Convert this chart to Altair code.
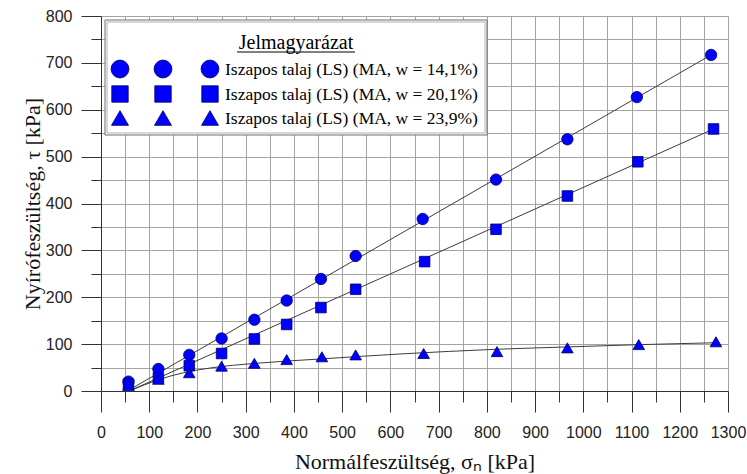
import altair as alt
import pandas as pd

# Direct shear results: normal stress sigma_n [kPa] vs. shear stress tau [kPa]
sigma_141 = [57, 119, 183, 250, 318, 385, 456, 528, 667, 819, 967, 1111, 1265]
tau_141 = [20, 47, 77, 112, 152, 193, 239, 288, 367, 451, 537, 627, 717]

sigma_201 = [57, 119, 183, 250, 318, 385, 456, 528, 671, 819, 967, 1113, 1270]
tau_201 = [14, 28, 54, 80, 111, 142, 178, 217, 276, 345, 416, 489, 559]

sigma_239 = [57, 119, 183, 250, 318, 385, 458, 528, 669, 821, 967, 1115, 1275]
tau_239 = [12, 25, 39, 53, 59, 67, 73, 77, 80, 84, 92, 99, 105]

# Strength envelopes (end points / points along the fitted curves)
fit_sigma_141 = [63, 1265]
fit_tau_141 = [5, 717]
fit_sigma_201 = [63, 1270]
fit_tau_201 = [2, 559]
fit_sigma_239 = [63, 90, 119, 171, 226, 320, 450, 620, 820, 966, 1120, 1275]
fit_tau_239 = [2, 13, 24, 39, 49, 59, 68, 79, 89, 94, 99, 103]

series_labels = [
    "Iszapos talaj (LS) (MA, w = 14,1%)",
    "Iszapos talaj (LS) (MA, w = 20,1%)",
    "Iszapos talaj (LS) (MA, w = 23,9%)",
]
legend_title = "Jelmagyarázat"

x_ticks = list(range(0, 1301, 50))
y_ticks = list(range(0, 801, 50))

W, H = 627, 375
BLUE = "#0000ff"
EDGE = "#000066"
GRID = "#a3a3a3"
AXIS = "#333333"

x_axis = alt.Axis(
    values=x_ticks, format="d", grid=True, gridColor=GRID, gridWidth=1,
    domainColor=AXIS, tickColor=AXIS,
    tickSize={"condition": {"test": "datum.value % 100 === 0", "value": 21}, "value": 11},
    labelExpr="datum.value % 100 === 0 ? datum.label : ''",
    labelOverlap=False, labelFlush=False,
    labelFont="Liberation Sans", labelFontSize=16, labelColor="#222222", labelPadding=12,
    title="Normálfeszültség, σₙ [kPa]", titleFont="Liberation Serif", titleFontSize=22,
    titleFontWeight="normal", titleColor="#111111", titleY=70, titleBaseline="middle",
)
y_axis = alt.Axis(
    values=y_ticks, format="d", grid=True, gridColor=GRID, gridWidth=1,
    domainColor=AXIS, tickColor=AXIS,
    tickSize={"condition": {"test": "datum.value % 100 === 0", "value": 20}, "value": 10},
    labelExpr="datum.value % 100 === 0 ? datum.label : ''",
    labelOverlap=False, labelFlush=False,
    labelFont="Liberation Sans", labelFontSize=16, labelColor="#222222", labelPadding=9,
    title="Nyírófeszültség, τ [kPa]", titleFont="Liberation Serif", titleFontSize=22,
    titleFontWeight="normal", titleColor="#111111", titleX=-69, titleBaseline="middle",
)

xs = alt.Scale(domain=[0, 1300], nice=False)
ys = alt.Scale(domain=[0, 800], nice=False)


def enc_x():
    return alt.X("sigma:Q", scale=xs, axis=x_axis)


def enc_y():
    return alt.Y("tau:Q", scale=ys, axis=y_axis)


def curve(sig, tau):
    df = pd.DataFrame({"sigma": sig, "tau": tau})
    return alt.Chart(df).mark_line(
        color="#3c3c3c", strokeWidth=1, interpolate="monotone"
    ).encode(x=enc_x(), y=enc_y())


def points(sig, tau, shape, size):
    df = pd.DataFrame({"sigma": sig, "tau": tau})
    return alt.Chart(df).mark_point(
        shape=shape, filled=True, fill=BLUE, stroke=EDGE, strokeWidth=0.8,
        size=size, opacity=1,
    ).encode(x=enc_x(), y=enc_y())


layers = [
    curve(fit_sigma_141, fit_tau_141),
    curve(fit_sigma_201, fit_tau_201),
    curve(fit_sigma_239, fit_tau_239),
    points(sigma_141, tau_141, "circle", 130),
    points(sigma_201, tau_201, "square", 112),
    points(sigma_239, tau_239, "triangle-up", 135),
]

# Legend box drawn inside the plot area
one = pd.DataFrame({"k": [0]})
layers.append(
    alt.Chart(one).mark_rect(fill="white", stroke="#6e6e6e", strokeWidth=1).encode(
        x=alt.value(4), x2=alt.value(386), y=alt.value(4), y2=alt.value(119)
    )
)
layers.append(
    alt.Chart(one).mark_rect(fill="white", stroke="#b0b0b0", strokeWidth=1, fillOpacity=0).encode(
        x=alt.value(6), x2=alt.value(384), y=alt.value(6), y2=alt.value(117)
    )
)
layers.append(
    alt.Chart(one).mark_text(
        text=legend_title, font="Liberation Serif", fontSize=20, color="black",
        align="center", baseline="alphabetic",
    ).encode(x=alt.value(195), y=alt.value(33))
)
layers.append(
    alt.Chart(one).mark_rule(color="black", strokeWidth=1).encode(
        x=alt.value(136), x2=alt.value(254), y=alt.value(36)
    )
)

legend_shapes = [("circle", 320), ("square", 270), ("triangle-up", 290)]
row_y = [53, 78, 102]
col_x = [19, 62, 109]
for (shape, size), ry, label in zip(legend_shapes, row_y, series_labels):
    for cx in col_x:
        layers.append(
            alt.Chart(one).mark_point(
                shape=shape, filled=True, fill=BLUE, stroke=EDGE, strokeWidth=0.8,
                size=size, opacity=1,
            ).encode(x=alt.value(cx), y=alt.value(ry))
        )
    layers.append(
        alt.Chart(one).mark_text(
            text=label, font="Liberation Serif", fontSize=17.5, color="black",
            align="left", baseline="middle",
        ).encode(x=alt.value(124), y=alt.value(ry + 1))
    )

chart = alt.layer(*layers).properties(
    width=W, height=H,
    autosize=alt.AutoSizeParams(type="none"),
    padding={"left": 101, "top": 16, "right": 19, "bottom": 83},
    background="white",
).configure_view(stroke=None)

chart.save("out.html", embed_options={"renderer": "svg", "actions": False})
